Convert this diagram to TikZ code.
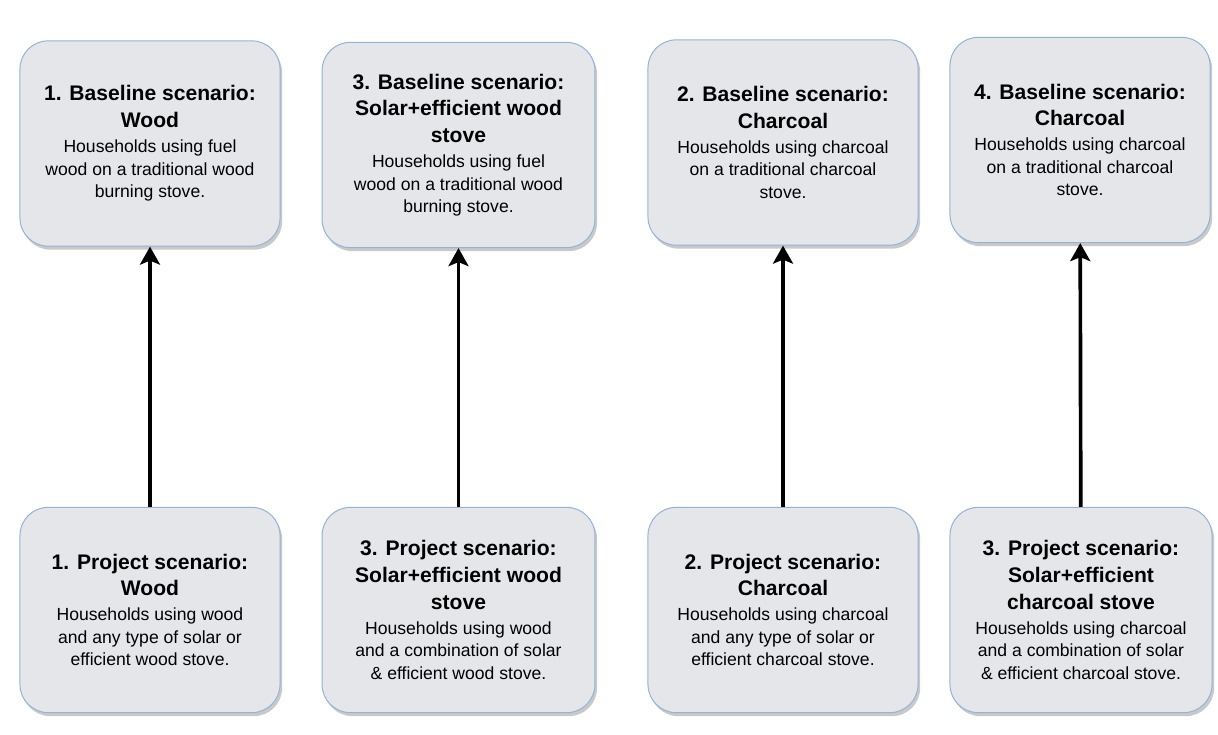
\documentclass[tikz,border=0pt]{standalone}
\usepackage{fontspec}
\setmainfont{Liberation Sans}
\usetikzlibrary{arrows.meta,shadows}
\definecolor{boxfill}{RGB}{228,230,234}
\definecolor{boxline}{RGB}{148,178,214}
\newcommand{\ttl}{\bfseries\fontsize{15}{19}\selectfont}

\begin{document}
\begin{tikzpicture}[x=0.025cm, y=-0.025cm,
  scen/.style={draw=boxline, line width=0.7pt, fill=boxfill, rounded corners=20pt,
               align=center, inner sep=2pt, minimum height=5.13cm,
               font=\fontsize{12.5}{16}\selectfont,
               drop shadow={shadow xshift=1.5pt, shadow yshift=-2.5pt, opacity=0.3, fill=black!70}},
  ar/.style={-{Stealth[length=4.5mm, width=5mm, inset=1mm]}, line width=2.6pt}]
\useasboundingbox (0,0) rectangle (1218,735);
% baseline scenarios
\node[scen, minimum width=6.5cm]   (bw)  at (150,143.5) {\ttl 1. Baseline scenario:\\[3pt]
  \ttl Wood\\[1.8pt] Households using fuel\\ wood on a traditional wood\\ burning stove.};
\node[scen, minimum width=6.82cm]  (bs)  at (458.5,145) {\ttl 3. Baseline scenario:\\[3pt]
  \ttl Solar+efficient wood\\[3pt] \ttl stove\\[1.8pt] Households using fuel\\
  wood on a traditional wood\\ burning stove.};
\node[scen, minimum width=6.75cm]  (bc)  at (783,142.5) {\ttl 2. Baseline scenario:\\[3pt]
  \ttl Charcoal\\[1.8pt] Households using charcoal\\ on a traditional charcoal\\ stove.};
\node[scen, minimum width=6.5cm]   (bcs) at (1080,140) {\ttl 4. Baseline scenario:\\[3pt]
  \ttl Charcoal\\[1.8pt] Households using charcoal\\ on a traditional charcoal\\ stove.};
% project scenarios
\node[scen, minimum width=6.5cm]   (pw)  at (150,610) {\ttl 1. Project scenario:\\[3pt]
  \ttl Wood\\[1.8pt] Households using wood\\ and any type of solar or\\ efficient wood stove.};
\node[scen, minimum width=6.82cm]  (ps)  at (458.5,610) {\ttl 3. Project scenario:\\[3pt]
  \ttl Solar+efficient wood\\[3pt] \ttl stove\\[1.8pt] Households using wood\\
  and a combination of solar\\ \& efficient wood stove.};
\node[scen, minimum width=6.75cm]  (pc)  at (783,610) {\ttl 2. Project scenario:\\[3pt]
  \ttl Charcoal\\[1.8pt] Households using charcoal\\ and any type of solar or\\ efficient charcoal stove.};
\node[scen, minimum width=6.55cm]  (pcs) at (1081,610) {\ttl 3. Project scenario:\\[3pt]
  \ttl Solar+efficient\\[3pt] \ttl charcoal stove\\[1.8pt] Households using charcoal\\
  and a combination of solar\\ \& efficient charcoal stove.};
% links
\draw[ar] (pw)  -- (bw);
\draw[ar] (ps)  -- (bs);
\draw[ar] (pc)  -- (bc);
\draw[ar] (pcs) -- (bcs);
\end{tikzpicture}
\end{document}
